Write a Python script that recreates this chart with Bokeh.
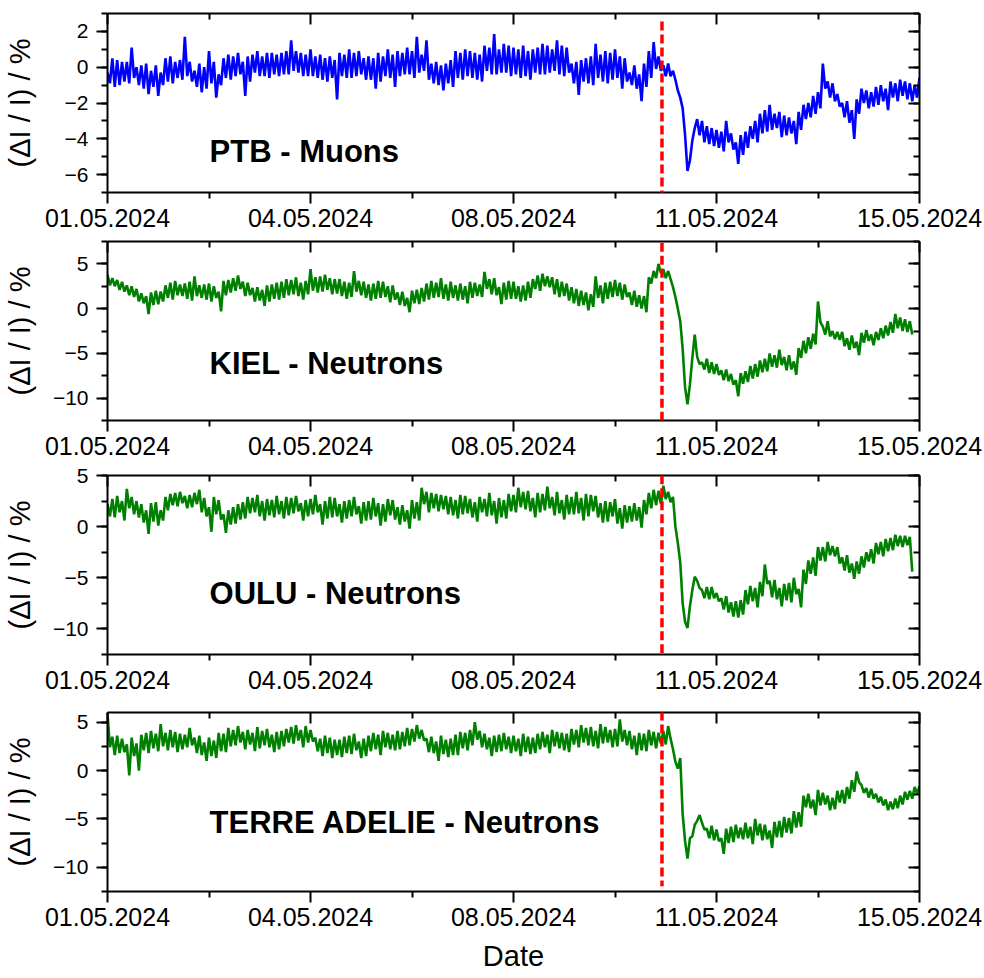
import numpy as np
from bokeh.plotting import figure
from bokeh.models import (LinearAxis, FixedTicker, SingleIntervalTicker, Label,
                          Arrow, Range1d)
from bokeh.layouts import column
from bokeh.embed import file_html
from bokeh.resources import INLINE

# ---------------- data ----------------
x_tick_days = [0.0, 3.5, 7.0, 10.5, 14.0]
x_tick_labels = ["01.05.2024", "04.05.2024", "08.05.2024", "11.05.2024", "15.05.2024"]
x_minor_days = [1.75, 5.25, 8.75, 12.25]
sample_hours = 1          # one value per hour, starting 01.05.2024 00:00
event_day = 9.56          # red dashed marker (days after 01.05.2024)

ptb_muons = [
    -0.3, -0.9, 0.5, -1.1, 0.4, -1.0, 0.3, -0.8, 0.3, -0.9, 1.1, -0.6, 0.0, -1.0, 0.1, -1.2, 0.2, -1.5, -0.2, -1.1, 0.1, -1.6, -0.3, -1.0,
    0.5, -0.8, 0.6, -0.9, 0.3, -0.6, 0.4, -0.7, 1.7, -0.5, 0.3, -0.8, -0.2, -1.1, 0.2, -1.4, 0.0, -1.2, 0.9, -0.9, 0.3, -1.7, -0.4, -1.0,
    0.5, -0.6, 0.7, -0.7, 0.6, -0.5, 0.8, -0.4, 0.3, -1.6, 0.6, -0.8, 0.7, -0.3, 0.9, -0.5, 0.6, -0.5, 0.8, -0.6, 0.8, -0.4, 0.7, -0.5,
    0.8, -0.4, 0.9, -0.4, 1.5, -0.2, 0.9, -0.3, 0.8, -0.5, 0.7, -0.5, 1.0, -0.5, 0.6, -0.6, 0.7, -0.7, 0.5, -0.8, 0.6, -0.6, 0.4, -1.8,
    0.8, -0.5, 0.7, -0.6, 1.0, -0.6, 0.8, -0.5, 0.9, -0.4, 0.5, -0.7, 0.6, -0.7, 0.5, -1.2, 0.8, -0.8, 0.6, -0.5, 1.0, -0.6, 0.7, -1.1,
    0.9, -0.5, 0.8, -0.4, 1.1, -0.4, 0.9, -0.6, 1.7, -0.3, 0.7, -0.2, 1.5, -0.7, 0.2, -0.9, 0.3, -1.0, 0.1, -1.3, 0.2, -0.9, 0.4, -1.1,
    0.9, -0.6, 0.8, -0.7, 1.0, -0.5, 0.9, -0.6, 0.8, -0.7, 0.7, -0.8, 1.2, -0.2, 1.1, -0.4, 1.85, -0.4, 1.0, -0.3, 1.3, -0.3, 1.2, -0.5,
    1.1, -0.4, 1.0, -0.6, 1.2, -0.5, 0.9, -0.7, 1.0, -0.3, 1.1, -0.4, 1.3, -0.4, 1.2, -0.3, 1.0, -0.2, 1.5, -0.4, 1.2, -0.5, 1.1, -0.3,
    0.2, -0.9, 0.3, -1.55, 0.4, -0.8, 0.5, -0.9, 0.6, -1.0, 1.3, -0.6, 0.7, -0.8, 0.9, -0.9, 0.8, -0.7, 1.0, -0.6, 0.6, -1.2, 0.5, -0.8,
    -0.3, -1.0, 0.1, -1.2, -0.4, -1.9, 0.2, -1.1, 0.9, -0.6, 1.4, -0.1, 0.6, -0.2, 0.1, -0.5, 0.2, -0.5, -0.2, -0.7, -1.3, -1.7, -2.3, -3.8,
    -5.8, -5.2, -4.1, -3.4, -2.9, -3.8, -3.0, -4.2, -3.3, -4.3, -3.4, -4.4, -3.5, -4.5, -3.6, -4.7, -3.0, -4.2, -3.7, -4.6, -4.2, -5.4, -3.8, -4.9,
    -3.6, -4.5, -3.3, -4.0, -3.0, -4.2, -2.6, -3.7, -2.4, -3.6, -2.1, -3.5, -2.6, -3.4, -2.5, -3.9, -2.7, -3.8, -2.8, -3.7, -3.0, -4.3, -2.5, -3.5,
    -2.1, -2.9, -2.0, -2.8, -1.6, -2.6, -1.4, -2.3, 0.2, -1.2, -0.8, -1.7, -0.9, -1.9, -1.5, -2.2, -2.0, -2.8, -1.9, -3.1, -2.4, -4.0, -1.8, -2.6,
    -1.2, -2.0, -1.3, -2.3, -1.4, -2.2, -1.1, -2.1, -1.0, -1.9, -1.2, -2.4, -0.8, -1.7, -0.9, -1.9, -0.7, -1.6, -0.8, -1.8, -0.9, -1.9, -1.0, -1.7,
    -0.6,
]

kiel_neutrons = [
    3.8, 2.6, 3.4, 2.5, 3.2, 2.1, 3.0, 1.9, 2.6, 1.5, 2.5, 1.3, 2.2, 0.8, 1.7, 0.6, 1.4, -0.6, 1.8, 0.4, 2.0, 0.5, 1.9, 0.8,
    2.6, 1.2, 2.9, 1.0, 3.1, 1.5, 2.7, 1.4, 2.8, 1.1, 3.0, 0.9, 3.6, 1.4, 2.6, 1.2, 2.7, 1.0, 2.8, 0.8, 2.5, 1.2, 1.9, -0.3,
    3.1, 1.5, 3.2, 1.8, 3.4, 2.0, 3.7, 2.2, 3.0, 1.4, 2.9, 1.5, 2.3, 0.8, 2.4, 0.9, 2.1, 0.3, 2.6, 0.8, 2.7, 1.1, 2.9, 1.0,
    3.0, 1.2, 3.3, 1.5, 3.2, 1.6, 3.5, 1.4, 2.9, 1.0, 3.1, 1.6, 4.4, 2.0, 3.5, 1.8, 3.6, 1.9, 3.8, 2.1, 3.4, 1.6, 3.3, 1.7,
    3.3, 1.4, 3.0, 1.1, 2.9, 1.3, 4.2, 1.9, 3.1, 1.5, 3.0, 1.2, 2.7, 0.9, 2.8, 1.1, 3.1, 1.2, 3.0, 1.3, 2.5, 0.7, 2.6, 1.0,
    1.8, 0.4, 1.9, 0.3, 1.2, -0.4, 2.0, 0.6, 2.1, 0.5, 2.3, 0.8, 2.8, 1.0, 3.1, 1.2, 2.9, 1.3, 3.4, 1.1, 2.7, 0.9, 3.0, 1.2,
    2.6, 0.9, 2.8, 1.0, 2.5, 0.6, 3.0, 1.2, 2.9, 1.4, 2.7, 1.3, 4.1, 2.2, 3.3, 1.6, 3.4, 1.5, 2.4, 0.5, 2.9, 1.0, 3.1, 1.1,
    3.0, 1.1, 2.5, 0.8, 2.6, 0.9, 3.0, 1.2, 3.3, 2.2, 3.7, 2.0, 3.9, 2.5, 3.6, 2.4, 3.5, 1.6, 3.3, 1.3, 3.0, 1.4, 2.8, 0.9,
    2.4, 0.6, 2.2, 0.3, 2.0, 0.4, 1.8, -0.2, 1.6, 0.2, 3.6, 1.2, 2.6, 0.6, 2.9, 1.1, 3.0, 1.3, 3.2, 1.4, 2.9, 1.0, 2.7, 1.3,
    1.8, 0.4, 2.0, 0.2, 1.5, 0.0, 1.4, -0.4, 3.5, 2.8, 4.2, 3.4, 5.0, 4.0, 4.4, 3.4, 4.2, 3.3, 2.4, 1.3, 0.0, -1.4, -4.5, -8.8,
    -10.7, -8.5, -5.5, -2.9, -5.4, -6.2, -6.0, -6.8, -5.6, -7.2, -6.0, -7.3, -6.2, -7.4, -6.9, -8.0, -6.8, -8.1, -7.3, -8.5, -8.0, -9.8, -7.2, -8.4,
    -7.0, -8.2, -6.4, -7.8, -6.2, -7.6, -5.8, -7.1, -5.6, -7.0, -5.0, -6.5, -5.2, -6.6, -4.6, -6.3, -5.4, -6.9, -5.2, -6.8, -5.9, -7.4, -4.4, -5.5,
    -3.6, -5.0, -3.2, -4.5, -2.8, -4.0, 0.8, -1.5, -2.0, -2.9, -1.4, -3.1, -2.5, -3.4, -2.6, -3.5, -2.6, -4.2, -3.3, -4.6, -3.0, -4.4, -3.7, -5.2,
    -2.7, -3.8, -2.4, -3.6, -2.9, -4.1, -2.6, -3.5, -2.2, -3.3, -1.9, -3.0, -1.5, -2.7, -0.6, -2.2, -1.0, -2.5, -1.2, -2.6, -1.4, -2.9,
]

oulu_neutrons = [
    2.2, 1.0, 2.7, 0.9, 3.0, 1.4, 2.5, 0.6, 3.7, 1.8, 2.9, 1.2, 2.5, 0.9, 2.2, 0.4, 1.6, -0.7, 2.3, 0.5, 2.4, 0.1, 1.6, 0.6,
    2.9, 1.6, 3.2, 2.1, 3.3, 2.0, 3.4, 2.3, 3.0, 1.8, 3.1, 1.9, 3.3, 2.2, 3.6, 1.4, 2.8, 1.0, 1.9, -0.5, 2.9, 1.2, 2.6, 0.7,
    1.2, -0.6, 1.6, 0.2, 1.9, 0.3, 2.2, 0.7, 2.4, 0.8, 2.9, 1.3, 2.8, 1.4, 3.1, 1.0, 2.5, 0.6, 2.7, 1.1, 2.6, 0.9, 3.0, 1.2,
    2.5, 0.8, 2.9, 1.1, 2.8, 1.3, 3.0, 1.5, 2.3, 0.6, 2.6, 1.0, 2.7, 1.2, 3.1, 1.4, 2.2, 0.2, 2.5, 0.8, 2.9, 0.9, 2.8, 1.0,
    2.2, 0.4, 2.5, 0.8, 2.6, 1.0, 2.9, 1.2, 2.0, 0.3, 2.4, 0.6, 2.5, 0.7, 2.8, 1.0, 2.3, 0.1, 2.2, 0.5, 2.7, 1.1, 2.6, 0.7,
    1.9, 0.2, 2.1, 0.5, 1.6, -0.2, 2.6, 0.8, 2.4, 0.6, 3.8, 2.2, 3.4, 1.4, 3.3, 1.8, 3.2, 1.5, 3.1, 1.7, 3.0, 1.2, 2.9, 1.1,
    2.6, 0.8, 3.1, 1.2, 3.0, 1.3, 2.7, 0.9, 2.4, 0.5, 2.9, 1.4, 2.7, 1.0, 3.3, 1.1, 2.5, 0.3, 2.8, 0.9, 2.6, 0.8, 3.2, 1.5,
    3.1, 1.4, 3.8, 1.9, 3.4, 1.7, 3.5, 1.5, 2.8, 0.9, 3.3, 1.4, 3.2, 1.6, 3.9, 1.8, 2.9, 1.1, 3.4, 1.3, 2.6, 0.7, 3.1, 1.2,
    2.9, 1.2, 3.4, 1.3, 2.8, 0.6, 3.2, 1.0, 3.1, 1.5, 3.0, 0.9, 2.3, 0.4, 2.5, 0.5, 2.4, 1.0, 2.7, 0.3, 1.8, -0.2, 2.1, 0.4,
    2.0, 0.5, 2.3, 0.6, 1.9, -0.1, 2.6, 1.2, 3.3, 1.8, 3.6, 2.1, 3.5, 2.2, 4.0, 2.7, 3.4, 2.4, 2.9, 0.0, -1.6, -3.5, -7.5, -9.3,
    -9.9, -7.8, -6.2, -4.9, -5.3, -6.0, -6.2, -7.0, -5.9, -7.1, -5.9, -7.0, -6.5, -7.3, -7.0, -8.1, -6.8, -8.4, -7.4, -8.8, -7.3, -8.9, -7.2, -8.6,
    -6.2, -7.6, -5.8, -7.3, -6.0, -7.9, -5.4, -6.8, -3.7, -5.6, -5.3, -6.9, -5.2, -7.1, -6.0, -7.8, -5.6, -7.2, -5.5, -7.4, -5.0, -6.6, -6.1, -7.9,
    -4.2, -5.6, -3.3, -4.6, -3.0, -4.8, -2.0, -3.3, -2.0, -3.4, -1.5, -2.8, -1.9, -2.9, -2.0, -3.6, -3.0, -4.3, -2.8, -4.5, -3.6, -5.1, -3.4, -4.6,
    -2.9, -4.0, -2.5, -3.4, -2.2, -3.6, -1.6, -2.7, -1.5, -2.9, -1.2, -2.4, -1.1, -2.3, -0.8, -1.9, -0.9, -2.0, -0.9, -1.8, -1.0, -4.4,
]

terre_adelie_neutrons = [
    5.9, 2.4, 3.5, 1.6, 3.6, 1.8, 3.3, 1.9, 2.7, -0.5, 3.4, 1.5, 2.8, 0.0, 3.7, 2.1, 3.9, 1.8, 4.1, 2.3, 3.8, 2.0, 4.8, 2.5,
    3.9, 2.1, 4.2, 2.4, 4.0, 1.9, 3.8, 2.2, 3.7, 2.4, 4.4, 2.6, 3.4, 1.8, 3.6, 1.6, 2.9, 1.0, 3.4, 1.5, 3.1, 1.3, 3.9, 2.0,
    3.8, 1.9, 4.4, 2.5, 4.2, 2.6, 4.6, 2.9, 4.0, 2.2, 4.2, 2.7, 3.9, 2.0, 4.5, 2.3, 4.1, 2.6, 4.3, 2.4, 3.7, 1.9, 4.0, 2.2,
    4.1, 2.5, 4.3, 2.9, 4.5, 2.8, 4.7, 3.1, 4.2, 2.4, 4.6, 2.9, 4.2, 3.0, 3.4, 2.0, 3.3, 1.5, 3.6, 1.8, 3.4, 1.3, 3.2, 1.6,
    3.2, 1.4, 3.5, 1.8, 3.6, 1.7, 3.8, 2.1, 3.0, 1.3, 3.3, 1.5, 3.6, 2.0, 3.9, 2.2, 3.7, 1.6, 4.1, 2.4, 3.9, 2.2, 3.7, 2.1,
    4.1, 2.2, 4.0, 2.5, 4.4, 2.6, 4.3, 3.0, 4.7, 3.3, 4.2, 3.1, 3.3, 1.9, 3.5, 1.8, 3.0, 1.0, 3.6, 1.7, 3.2, 1.4, 3.3, 1.6,
    3.7, 1.6, 4.0, 2.3, 3.9, 2.1, 4.2, 2.6, 5.0, 3.2, 4.1, 2.4, 3.8, 2.2, 3.4, 1.5, 3.6, 1.9, 3.7, 2.0, 3.9, 2.2, 3.5, 1.8,
    3.6, 2.0, 3.3, 1.5, 3.8, 1.9, 3.5, 1.7, 3.4, 1.8, 3.8, 2.2, 4.0, 2.4, 3.7, 1.8, 4.2, 2.5, 4.0, 2.3, 3.9, 2.1, 3.8, 1.9,
    4.3, 2.7, 4.2, 2.4, 4.7, 2.9, 4.4, 2.6, 4.5, 2.5, 4.1, 2.3, 4.8, 2.8, 4.5, 2.9, 4.2, 2.4, 4.3, 2.5, 5.3, 3.0, 4.2, 2.6,
    4.1, 2.2, 3.6, 1.6, 3.9, 2.1, 3.8, 2.0, 4.2, 2.6, 4.0, 2.3, 3.9, 2.8, 4.1, 2.7, 4.6, 3.3, 2.2, 0.9, 0.2, 1.3, -4.5, -7.3,
    -9.1, -7.0, -6.8, -5.6, -5.2, -4.6, -5.4, -6.1, -6.0, -7.0, -5.7, -7.2, -6.1, -7.3, -7.0, -8.6, -6.0, -7.5, -5.8, -7.4, -5.6, -7.0, -5.9, -7.1,
    -5.4, -7.0, -5.8, -7.6, -5.0, -6.7, -5.5, -7.2, -5.6, -7.1, -6.2, -8.0, -5.3, -6.9, -5.2, -6.9, -4.8, -6.4, -4.9, -6.5, -4.2, -5.9, -4.3, -5.8,
    -2.6, -3.8, -2.4, -3.9, -3.0, -4.6, -2.0, -3.6, -2.3, -3.5, -2.6, -4.1, -2.8, -4.0, -2.1, -3.3, -2.0, -3.4, -1.7, -2.9, -1.0, -2.2, -0.1, -1.2,
    -1.5, -2.3, -1.8, -2.8, -1.9, -2.9, -2.4, -3.3, -2.7, -3.6, -3.0, -4.1, -3.2, -4.0, -2.9, -3.9, -2.6, -3.5, -2.2, -3.0, -2.1, -2.9, -1.7, -2.4,
    -1.6,
]

panel_titles = ["PTB - Muons", "KIEL - Neutrons", "OULU - Neutrons", "TERRE ADELIE - Neutrons"]

# ---------------- styling / layout ----------------
FONT = "Liberation Sans"
Y_TITLE = "(\u0394I / I) / %"

panel_specs = [
    dict(values=ptb_muons, color="#0000FF", yr=(-7, 3), interval=2, ty=-4.71,
         top=13, bottom=44, ystand=26, line=(2.55, -80)),
    dict(values=kiel_neutrons, color="#008000", yr=(-12.5, 7.5), interval=5, ty=-6.1,
         top=5, bottom=44, ystand=14, line=(80, -80)),
    dict(values=oulu_neutrons, color="#008000", yr=(-12.5, 5), interval=5, ty=-6.53,
         top=11, bottom=53, ystand=14, line=(80, -80)),
    dict(values=terre_adelie_neutrons, color="#008000", yr=(-12.5, 6), interval=5, ty=-5.33,
         top=5, bottom=86, ystand=14, line=(80, -11.97)),
]


def style_axis(ax, inward, show_labels, font_size):
    ax.axis_line_width = 2
    ax.axis_line_color = "black"
    ax.major_tick_line_width = 2
    ax.minor_tick_line_width = 2
    ax.major_tick_line_color = "black"
    ax.minor_tick_line_color = "black"
    if inward:
        ax.major_tick_in, ax.major_tick_out = 11, 0
        ax.minor_tick_in, ax.minor_tick_out = 6, 0
    else:
        ax.major_tick_in, ax.major_tick_out = 0, 11
        ax.minor_tick_in, ax.minor_tick_out = 0, 6
    if show_labels:
        ax.major_label_text_font = FONT
        ax.major_label_text_font_size = font_size
        ax.major_label_text_color = "black"
    else:
        ax.major_label_text_font_size = "1px"
        ax.major_label_text_color = None
        ax.major_label_standoff = 0


figs = []
n = len(panel_specs)
for i, spec in enumerate(panel_specs):
    vals = np.array(spec["values"], dtype=float)
    t_days = np.arange(len(vals)) * sample_hours / 24.0
    last = (i == n - 1)

    p = figure(frame_width=812, frame_height=179,
               x_range=Range1d(x_tick_days[0], x_tick_days[-1]),
               y_range=Range1d(*spec["yr"]),
               output_backend="svg", toolbar_location=None, tools="",
               min_border_left=107, min_border_right=65, min_border_top=spec["top"],
               min_border_bottom=spec["bottom"],
               background_fill_color="white", border_fill_color="white",
               outline_line_color=None)
    p.xgrid.visible = False
    p.ygrid.visible = False

    xax = p.xaxis[0]
    xax.ticker = FixedTicker(ticks=x_tick_days, minor_ticks=x_minor_days)
    xax.major_label_overrides = dict(zip(x_tick_days, x_tick_labels))
    style_axis(xax, inward=False, show_labels=True, font_size="25px")
    xax.major_label_standoff = 5
    if last:
        xax.axis_label = "Date"
        xax.axis_label_text_font = FONT
        xax.axis_label_text_font_size = "29px"
        xax.axis_label_text_font_style = "normal"
        xax.axis_label_text_color = "black"
        xax.axis_label_standoff = 11

    yax = p.yaxis[0]
    yax.ticker = SingleIntervalTicker(interval=spec["interval"], num_minor_ticks=2)
    style_axis(yax, inward=False, show_labels=True, font_size="21px")
    yax.major_label_standoff = 8
    yax.axis_label = Y_TITLE
    yax.axis_label_text_font = FONT
    yax.axis_label_text_font_size = "29px"
    yax.axis_label_text_font_style = "normal"
    yax.axis_label_text_color = "black"
    yax.axis_label_standoff = spec["ystand"]

    top = LinearAxis(ticker=FixedTicker(ticks=x_tick_days, minor_ticks=x_minor_days))
    style_axis(top, inward=True, show_labels=False, font_size="1px")
    p.add_layout(top, "above")
    right = LinearAxis(ticker=SingleIntervalTicker(interval=spec["interval"], num_minor_ticks=2))
    style_axis(right, inward=True, show_labels=False, font_size="1px")
    p.add_layout(right, "right")

    p.line(t_days, vals, line_color=spec["color"], line_width=2.6)

    p.add_layout(Arrow(end=None, x_start=event_day, y_start=spec["line"][0],
                       x_end=event_day, y_end=spec["line"][1],
                       line_color="#FF0000", line_width=3.5, line_dash="9 4"))

    p.add_layout(Label(x=1.76, y=spec["ty"], text=panel_titles[i], text_font=FONT,
                       text_font_size="31px", text_font_style="bold",
                       text_color="black", text_baseline="alphabetic"))
    figs.append(p)

layout = column(*figs, spacing=0)
open("out.html", "w").write(file_html(layout, INLINE, title="Cosmic ray decrease May 2024"))
